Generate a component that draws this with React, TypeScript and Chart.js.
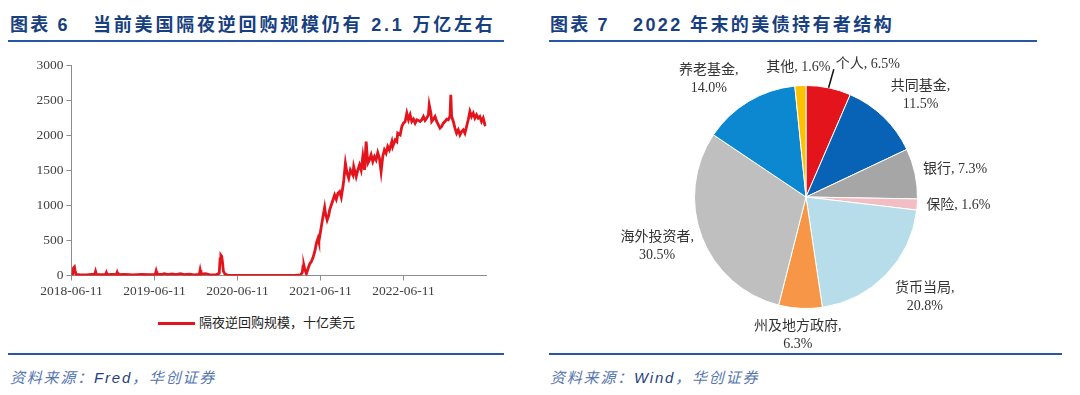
import React, { useEffect, useRef } from 'react';
import { Chart, registerables } from 'chart.js';

Chart.register(...registerables);

// ---------- Left chart: overnight reverse repo (billion USD) ----------
// x = years since 2018-06-11
const repoT = [
  0.000, 0.015, 0.025, 0.035, 0.045, 0.055, 0.10, 0.18, 0.24, 0.28, 0.29, 0.30, 0.36, 0.41, 0.42, 0.43,
  0.49, 0.54, 0.55, 0.56, 0.64, 0.74, 0.84, 0.94, 1.01, 1.02, 1.03, 1.08, 1.12, 1.16, 1.21, 1.26,
  1.31, 1.36, 1.42, 1.48, 1.54, 1.55, 1.56, 1.61, 1.66, 1.74, 1.78, 1.79, 1.80, 1.81, 1.82, 1.83,
  1.85, 1.88, 2.00, 2.20, 2.40, 2.60, 2.70, 2.76, 2.78, 2.79, 2.80, 2.81, 2.83, 2.85, 2.87, 2.89,
  2.91, 2.935, 2.95, 2.97, 2.98, 3.00, 3.016, 3.03, 3.05, 3.06, 3.08, 3.10, 3.11, 3.13, 3.15, 3.17,
  3.19, 3.21, 3.23, 3.25, 3.27, 3.28, 3.30, 3.32, 3.34, 3.36, 3.39, 3.40, 3.43, 3.45, 3.47, 3.49,
  3.51, 3.53, 3.55, 3.57, 3.59, 3.61, 3.63, 3.65, 3.67, 3.69, 3.71, 3.73, 3.75, 3.77, 3.79, 3.81,
  3.83, 3.86, 3.87, 3.90, 3.92, 3.93, 3.96, 3.98, 4.00, 4.02, 4.04, 4.06, 4.08, 4.10, 4.12, 4.14,
  4.16, 4.18, 4.20, 4.22, 4.24, 4.26, 4.28, 4.30, 4.31, 4.33, 4.34, 4.36, 4.38, 4.40, 4.42, 4.44,
  4.46, 4.48, 4.50, 4.52, 4.54, 4.56, 4.57, 4.58, 4.60, 4.62, 4.64, 4.66, 4.68, 4.70, 4.72, 4.74,
  4.76, 4.78, 4.80, 4.82, 4.84, 4.86, 4.88, 4.90, 4.92, 4.94, 4.96, 4.98, 4.99,
];
const repoV = [
  15, 22, 110, 123, 55, 15, 12, 10, 14, 16, 58, 16, 12, 12, 42, 12,
  14, 12, 45, 12, 14, 10, 14, 12, 15, 62, 18, 14, 26, 14, 22, 12,
  25, 12, 18, 10, 15, 78, 20, 26, 12, 10, 30, 235, 290, 275, 180, 60,
  20, 5, 2, 1, 1, 2, 4, 10, 40, 135, 142, 90, 25, 100, 165, 200,
  255, 361, 457, 529, 481, 623, 743, 838, 971, 886, 790, 860, 933, 1004, 1076, 1147,
  1085, 1171, 1195, 1114, 1266, 1352, 1600, 1457, 1386, 1504, 1433, 1552, 1409, 1504, 1576, 1500,
  1695, 1505, 1909, 1600, 1647, 1719, 1624, 1695, 1647, 1750, 1671, 1480, 1695, 1790, 1743, 1838,
  1790, 1909, 1838, 1933, 1909, 2028, 2004, 2124, 2171, 2195, 2314, 2219, 2290, 2195, 2228, 2171,
  2219, 2210, 2195, 2219, 2266, 2210, 2243, 2290, 2433, 2314, 2195, 2228, 2266, 2195, 2147, 2100,
  2124, 2171, 2195, 2228, 2219, 2266, 2576, 2266, 2195, 2100, 2028, 2076, 2004, 2052, 2076, 2028,
  2124, 2219, 2338, 2266, 2314, 2243, 2290, 2243, 2266, 2195, 2243, 2150, 2130,
];
const xTickPos = [0, 1, 2, 3, 4];
const xTickLabels = ['2018-06-11', '2019-06-11', '2020-06-11', '2021-06-11', '2022-06-11'];
const xMax = 5;
const yMin = 0;
const yMax = 3000;
const yStep = 500;
const seriesName = '隔夜逆回购规模，十亿美元';

// ---------- Right chart: US Treasury holders, end of 2022 ----------
const holderNames = ['个人', '共同基金', '银行', '保险', '货币当局', '州及地方政府', '海外投资者', '养老基金', '其他'];
const holderShares = [6.5, 11.5, 7.3, 1.6, 20.8, 6.3, 30.5, 14.0, 1.6];
const holderColors = ['#E3141B', '#0863B7', '#A6A6A6', '#F2BDC3', '#B6DDE9', '#F79646', '#BFBFBF', '#0B88CF', '#FFC000'];

const labelTweaks: Record<string, { dx: number; dy: number; leader?: boolean }> = {
  '个人': { dx: 31, dy: -6, leader: true },
  '共同基金': { dx: 10, dy: -2 },
  '养老基金': { dx: -20, dy: 1 },
  '货币当局': { dx: 11, dy: 4 },
  '海外投资者': { dx: -2, dy: 0 },
};

const serifCJK = '"Liberation Serif", "Noto Sans CJK SC", serif';
const sansCJK = '"Liberation Sans", "Noto Sans CJK SC", sans-serif';

const pieLabelPlugin = {
  id: 'pieLabels',
  afterDatasetsDraw(chart: any) {
    const ctx = chart.ctx as CanvasRenderingContext2D;
    const meta = chart.getDatasetMeta(0);
    ctx.save();
    ctx.font = '14px ' + serifCJK;
    ctx.fillStyle = '#333333';
    ctx.textAlign = 'center';
    ctx.textBaseline = 'middle';
    const lh = 18;
    meta.data.forEach((arc: any, i: number) => {
      const p = arc.getProps(['x', 'y', 'startAngle', 'endAngle', 'outerRadius'], true);
      const mid = (p.startAngle + p.endAngle) / 2;
      const ux = Math.cos(mid);
      const uy = Math.sin(mid);
      const name = holderNames[i];
      const pct = holderShares[i].toFixed(1) + '%';
      const lines = name.length >= 4 ? [name + ',', pct] : [name + ', ' + pct];
      const w = Math.max(...lines.map((l) => ctx.measureText(l).width));
      const h = lines.length * lh;
      const g = 9;
      const tw = labelTweaks[name] || { dx: 0, dy: 0 };
      const cx = p.x + (p.outerRadius + g) * ux + (w / 2) * ux + tw.dx;
      const cy = p.y + (p.outerRadius + g) * uy + (h / 2) * uy + tw.dy;
      lines.forEach((l, k) => ctx.fillText(l, cx, cy - h / 2 + lh / 2 + k * lh));
      if (tw.leader) {
        ctx.beginPath();
        ctx.strokeStyle = '#111111';
        ctx.lineWidth = 1.5;
        ctx.moveTo(p.x + p.outerRadius * ux, p.y + p.outerRadius * uy);
        ctx.lineTo(cx - w / 2 - 2, cy + 5);
        ctx.stroke();
      }
    });
    ctx.restore();
  },
};

function LineChart() {
  const ref = useRef<HTMLCanvasElement>(null);
  useEffect(() => {
    if (!ref.current) return;
    const chart = new Chart(ref.current, {
      type: 'line',
      data: {
        datasets: [
          {
            label: seriesName,
            data: repoT.map((t, i) => ({ x: t, y: repoV[i] })),
            borderColor: '#E3141B',
            backgroundColor: '#E3141B',
            borderWidth: 2.8,
            pointRadius: 0,
            tension: 0,
            fill: false,
          },
        ],
      },
      options: {
        responsive: false,
        maintainAspectRatio: false,
        animation: false,
        events: [],
        layout: { padding: { left: 0, right: 13.5, top: 15, bottom: 0 } },
        plugins: { legend: { display: false }, tooltip: { enabled: false } },
        scales: {
          x: {
            type: 'linear',
            min: 0,
            max: xMax,
            afterBuildTicks: (scale: any) => {
              scale.ticks = xTickPos.map((v) => ({ value: v }));
            },
            afterFit: (scale: any) => {
              scale.height = 29.5;
            },
            ticks: {
              autoSkip: false,
              maxRotation: 0,
              padding: 3,
              color: '#404040',
              font: { family: serifCJK, size: 13.5 },
              callback: (_v: any, i: number) => xTickLabels[i],
            },
            grid: { drawOnChartArea: false, drawTicks: true, tickLength: 5, color: '#8c8c8c' },
            border: { display: true, color: '#8c8c8c', width: 1 },
          },
          y: {
            min: yMin,
            max: yMax,
            afterFit: (scale: any) => {
              scale.width = 71.5;
            },
            ticks: {
              stepSize: yStep,
              padding: 3,
              color: '#404040',
              font: { family: serifCJK, size: 13.5 },
              callback: (v: any) => String(v),
            },
            grid: { drawOnChartArea: false, drawTicks: true, tickLength: 5, color: '#8c8c8c' },
            border: { display: true, color: '#8c8c8c', width: 1 },
          },
        },
      },
    });
    return () => chart.destroy();
  }, []);
  return (
    <canvas
      ref={ref}
      width={500}
      height={255}
      style={{ position: 'absolute', left: 0, top: 50, width: 500, height: 255 }}
    />
  );
}

function PieChart() {
  const ref = useRef<HTMLCanvasElement>(null);
  useEffect(() => {
    if (!ref.current) return;
    const chart = new Chart(ref.current, {
      type: 'pie',
      data: {
        labels: holderNames,
        datasets: [
          {
            data: holderShares,
            backgroundColor: holderColors,
            borderColor: '#ffffff',
            borderWidth: 1,
          },
        ],
      },
      options: {
        responsive: false,
        maintainAspectRatio: false,
        animation: false,
        events: [],
        layout: { padding: { left: 154, right: 162, top: 40, bottom: 41 } },
        plugins: { legend: { display: false }, tooltip: { enabled: false } },
      },
      plugins: [pieLabelPlugin],
    });
    return () => chart.destroy();
  }, []);
  return (
    <canvas
      ref={ref}
      width={540}
      height={305}
      style={{ position: 'absolute', left: 540, top: 45, width: 540, height: 305 }}
    />
  );
}

const titleNavy = '#183F7F';
const ruleBlue = '#2756A2';

function Title({ left, num, text, spacing }: { left: number; num: string; text: string; spacing: number }) {
  const base: React.CSSProperties = {
    position: 'absolute',
    top: 14,
    fontFamily: sansCJK,
    fontWeight: 700,
    fontSize: 18,
    lineHeight: '22px',
    letterSpacing: 2.2,
    color: titleNavy,
    whiteSpace: 'nowrap',
  };
  return (
    <>
      <div style={{ ...base, left }}>{'图表 ' + num}</div>
      <div style={{ ...base, left: left + 83, letterSpacing: spacing }}>{text}</div>
    </>
  );
}

function Source({ left, name }: { left: number; name: string }) {
  return (
    <div
      style={{
        position: 'absolute',
        left,
        top: 368,
        fontFamily: sansCJK,
        fontStyle: 'italic',
        fontSize: 15,
        lineHeight: '20px',
        letterSpacing: 1.8,
        color: '#5575B0',
        whiteSpace: 'nowrap',
      }}
    >
      资料来源：<span style={{ color: '#1F3F80' }}>{name}</span>，华创证券
    </div>
  );
}

export default function App() {
  return (
    <div
      style={{
        position: 'fixed',
        left: 0,
        top: 0,
        width: 1080,
        height: 395,
        background: '#ffffff',
        overflow: 'hidden',
      }}
    >
      <Title left={10} num="6" text="当前美国隔夜逆回购规模仍有 2.1 万亿左右" spacing={2.8} />
      <Title left={550} num="7" text="2022 年末的美债持有者结构" spacing={2.4} />
      <div style={{ position: 'absolute', left: 8, top: 40, width: 496, height: 2, background: ruleBlue }} />
      <div style={{ position: 'absolute', left: 549, top: 40, width: 488, height: 2, background: ruleBlue }} />

      <LineChart />
      <PieChart />

      {/* legend of left chart */}
      <div style={{ position: 'absolute', left: 158, top: 322, width: 37, height: 3, background: '#E3141B' }} />
      <div
        style={{
          position: 'absolute',
          left: 199,
          top: 314,
          fontFamily: serifCJK,
          fontSize: 13,
          lineHeight: '18px',
          color: '#222222',
          whiteSpace: 'nowrap',
        }}
      >
        {seriesName}
      </div>

      <div style={{ position: 'absolute', left: 8, top: 353, width: 496, height: 2, background: ruleBlue }} />
      <div style={{ position: 'absolute', left: 549, top: 353, width: 513, height: 2, background: ruleBlue }} />
      <Source left={10} name="Fred" />
      <Source left={550} name="Wind" />
    </div>
  );
}
